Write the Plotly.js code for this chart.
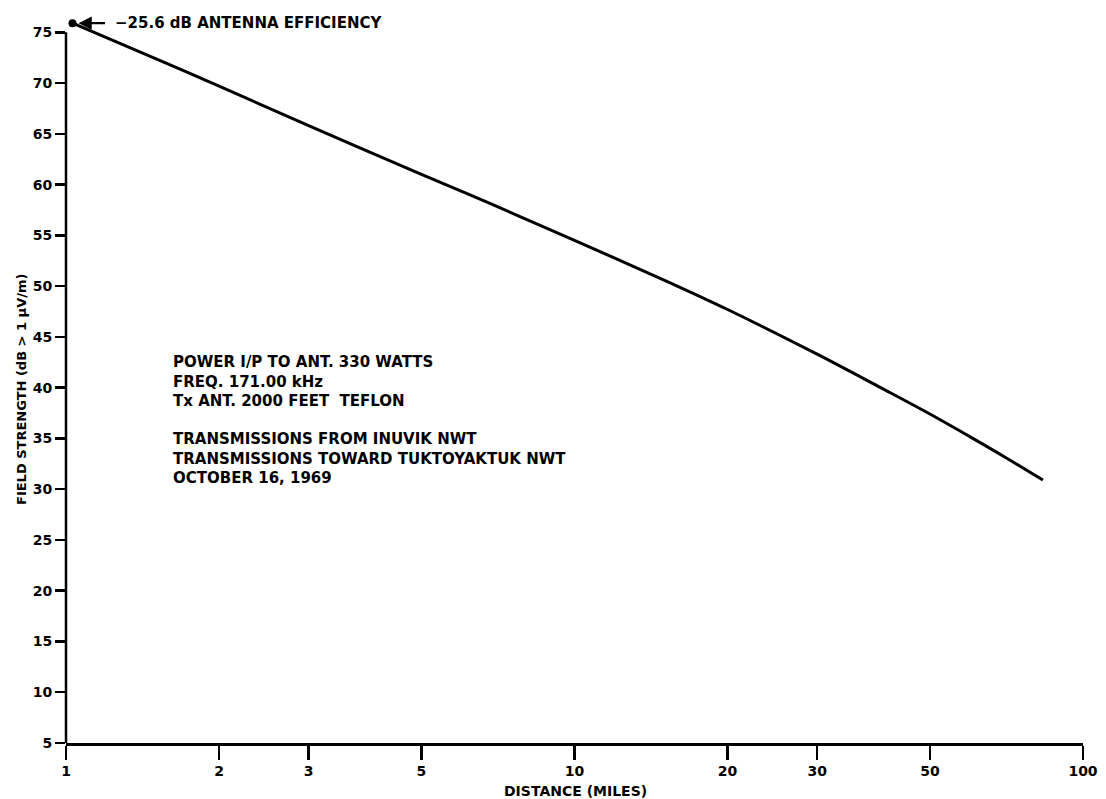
<!DOCTYPE html>
<html>
<head>
<meta charset="utf-8">
<script src="https://cdn.plot.ly/plotly-3.0.1.min.js"></script>
<style>html,body{margin:0;padding:0;background:#fff;}#chart{width:1106px;height:799px;}</style>
</head>
<body>
<div id="chart"></div>
<script>
// Data
const distanceMiles = [1.03, 1.5, 2, 3, 5, 7, 10, 15, 20, 30, 40, 50, 60, 70, 83.4];
const fieldStrengthDb = [75.9, 72.4, 69.7, 65.8, 61.0, 57.9, 54.5, 50.6, 47.7, 43.3, 40.0, 37.4, 35.15, 33.2, 30.9];
const xTickVals = [1, 2, 3, 5, 10, 20, 30, 50, 100];
const xTickText = ["1", "2", "3", "5", "10", "20", "30", "50", "100"];
const yTickVals = [5, 10, 15, 20, 25, 30, 35, 40, 45, 50, 55, 60, 65, 70, 75];
const efficiencyLabel = "−25.6 dB ANTENNA EFFICIENCY";
const infoBlock1 = ["POWER I/P TO ANT. 330 WATTS", "FREQ. 171.00 kHz", "Tx ANT. 2000 FEET  TEFLON"];
const infoBlock2 = ["TRANSMISSIONS FROM INUVIK NWT", "TRANSMISSIONS TOWARD TUKTOYAKTUK NWT", "OCTOBER 16, 1969"];
const xTitle = "DISTANCE (MILES)";
const yTitle = "FIELD STRENGTH (dB > 1 µV/m)";

const FONT = "DejaVu Sans, Verdana, sans-serif";
const ink = "#000";

// layout geometry (pixels)
const W = 1106, H = 799;
const M = {l: 66, r: 23, t: 12, b: 56};
const plotW = W - M.l - M.r, plotH = H - M.t - M.b;
const px2paperX = px => (px - M.l) / plotW;
const px2paperY = py => (H - M.b - py) / plotH;

const traces = [
  {
    x: distanceMiles, y: fieldStrengthDb, type: "scatter", mode: "lines",
    line: {color: ink, width: 3, shape: "spline", smoothing: 1},
    hoverinfo: "skip", showlegend: false
  },
  {
    x: [distanceMiles[0]], y: [fieldStrengthDb[0]], type: "scatter", mode: "markers",
    marker: {color: ink, size: 8}, cliponaxis: false, showlegend: false, hoverinfo: "skip"
  }
];

const boldFont = (size) => ({family: FONT, size: size, weight: "bold", color: ink});

const annotations = [
  {x: Math.log10(distanceMiles[0]), y: fieldStrengthDb[0], xref: "x", yref: "y",
   text: "", showarrow: true, arrowhead: 2, arrowsize: 1.2, arrowwidth: 2.2, arrowcolor: ink,
   ax: 34, ay: 0, standoff: 6},
  {x: Math.log10(distanceMiles[0]), y: fieldStrengthDb[0], xref: "x", yref: "y",
   text: efficiencyLabel, showarrow: false, xanchor: "left", yanchor: "middle", xshift: 40, yshift: 0,
   font: boldFont(15)},
  {x: px2paperX(21), y: px2paperY(390), xref: "paper", yref: "paper", textangle: -90,
   text: yTitle, showarrow: false, xanchor: "center", yanchor: "middle", font: boldFont(13)},
  {x: px2paperX(575), y: px2paperY(791), xref: "paper", yref: "paper",
   text: xTitle, showarrow: false, xanchor: "center", yanchor: "middle", font: boldFont(14)},
  {x: px2paperX(171), y: px2paperY(381), xref: "paper", yref: "paper",
   text: infoBlock1.join("<br>"), showarrow: false, xanchor: "left", yanchor: "middle", align: "left",
   font: boldFont(15)},
  {x: px2paperX(171), y: px2paperY(459), xref: "paper", yref: "paper",
   text: infoBlock2.join("<br>"), showarrow: false, xanchor: "left", yanchor: "middle", align: "left",
   font: boldFont(15)}
];

const layout = {
  width: W, height: H,
  margin: M,
  paper_bgcolor: "#fff", plot_bgcolor: "#fff",
  font: {family: FONT, color: ink, size: 14},
  showlegend: false,
  xaxis: {
    type: "log", range: [0, 2],
    tickvals: xTickVals, ticktext: xTickText,
    ticks: "outside", ticklen: 14, tickwidth: 2.5, tickcolor: ink,
    showline: true, linewidth: 2.5, linecolor: ink,
    showgrid: false, zeroline: false,
    tickfont: boldFont(14)
  },
  yaxis: {
    range: [5, 77],
    tickvals: yTickVals,
    ticks: "outside", ticklen: 10, tickwidth: 2.5, tickcolor: ink,
    showline: false, showgrid: false, zeroline: false,
    tickfont: boldFont(14)
  },
  shapes: [
    {type: "line", xref: "paper", yref: "y", x0: 0, x1: 0, y0: yTickVals[0], y1: yTickVals[yTickVals.length - 1],
     line: {color: ink, width: 2.5}}
  ],
  annotations: annotations
};

Plotly.newPlot("chart", traces, layout, {staticPlot: true, displayModeBar: false});
</script>
</body>
</html>
